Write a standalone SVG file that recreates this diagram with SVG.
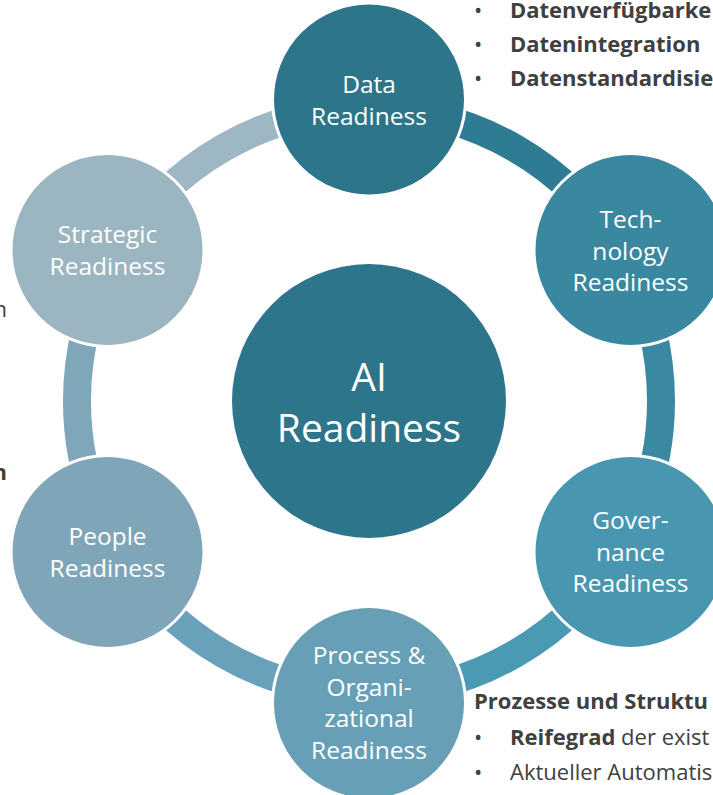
<svg xmlns="http://www.w3.org/2000/svg" width="713" height="795" viewBox="0 0 713 795">
  <style>
    .ring { fill: none; stroke-width: 28; }
    .node { stroke: #ffffff; stroke-width: 3; }
    .lbl { font-family: "Open Sans", "Noto Sans", sans-serif; font-size: 24.5px; fill: #ffffff; text-anchor: middle; }
    .core { font-family: "Open Sans", "Noto Sans", sans-serif; font-size: 39px; fill: #ffffff; text-anchor: middle; }
    .note { font-family: "Open Sans", "Noto Sans", sans-serif; font-size: 22px; fill: #404040; }
    .b { font-weight: bold; }
  </style>

  <!-- ring segments between the readiness nodes -->
  <g id="connectors">
    <path class="ring" stroke="#2E7C94" d="M 369 109 A 292 292 0 0 1 621.88 255"/>
    <path class="ring" stroke="#3B88A1" d="M 621.88 255 A 292 292 0 0 1 621.88 547"/>
    <path class="ring" stroke="#4A9AB4" d="M 621.88 547 A 292 292 0 0 1 369 693"/>
    <path class="ring" stroke="#68A1B9" d="M 369 693 A 292 292 0 0 1 116.12 547"/>
    <path class="ring" stroke="#7EA8BA" d="M 116.12 547 A 292 292 0 0 1 116.12 255"/>
    <path class="ring" stroke="#9DB8C4" d="M 116.12 255 A 292 292 0 0 1 369 109"/>
  </g>

  <g id="core">
    <circle cx="369" cy="401" r="137" fill="#2D758B"/>
    <text class="core" x="369" y="391">AI</text>
    <text class="core" x="369" y="442">Readiness</text>
  </g>

  <g id="data">
    <circle class="node" cx="369" cy="99.5" r="96.5" fill="#2D758B"/>
    <text class="lbl" x="369" y="92.5">Data</text>
    <text class="lbl" x="369" y="124.5">Readiness</text>
  </g>

  <g id="technology">
    <circle class="node" cx="630.5" cy="250" r="96.5" fill="#3A87A0"/>
    <text class="lbl" x="630.5" y="228">Tech-</text>
    <text class="lbl" x="630.5" y="259.5">nology</text>
    <text class="lbl" x="630.5" y="291">Readiness</text>
  </g>

  <g id="governance">
    <circle class="node" cx="630.5" cy="552" r="96.5" fill="#4896B0"/>
    <text class="lbl" x="630.5" y="529">Gover-</text>
    <text class="lbl" x="630.5" y="560.5">nance</text>
    <text class="lbl" x="630.5" y="592">Readiness</text>
  </g>

  <g id="process">
    <circle class="node" cx="369" cy="703" r="96.5" fill="#679FB6"/>
    <text class="lbl" x="369" y="664">Process &amp;</text>
    <text class="lbl" x="369" y="695.5">Organi-</text>
    <text class="lbl" x="369" y="727">zational</text>
    <text class="lbl" x="369" y="758.5">Readiness</text>
  </g>

  <g id="people">
    <circle class="node" cx="107.5" cy="552" r="96.5" fill="#7FA6B8"/>
    <text class="lbl" x="107.5" y="545">People</text>
    <text class="lbl" x="107.5" y="577">Readiness</text>
  </g>

  <g id="strategic">
    <circle class="node" cx="107.5" cy="250" r="96.5" fill="#9BB5C1"/>
    <text class="lbl" x="107.5" y="243">Strategic</text>
    <text class="lbl" x="107.5" y="275">Readiness</text>
  </g>

  <!-- side notes -->
  <g id="notes-data">
    <text class="note" x="474" y="18">•</text>
    <text class="note b" x="510" y="18">Datenverfügbarke</text>
    <text class="note" x="474" y="52">•</text>
    <text class="note b" x="510" y="52">Datenintegration</text>
    <text class="note" x="474" y="86">•</text>
    <text class="note b" x="510" y="86">Datenstandardisie</text>
  </g>

  <g id="notes-process">
    <text class="note b" x="474" y="709">Prozesse und Struktu</text>
    <text class="note" x="474" y="745">•</text>
    <text class="note" x="510" y="745"><tspan class="b">Reifegrad</tspan> der exist</text>
    <text class="note" x="474" y="780">•</text>
    <text class="note" x="510" y="780">Aktueller Automatis</text>
  </g>

  <g id="notes-left">
    <text class="note" x="7" y="317" text-anchor="end">n</text>
    <text class="note b" x="7" y="480" text-anchor="end">n</text>
  </g>
</svg>
